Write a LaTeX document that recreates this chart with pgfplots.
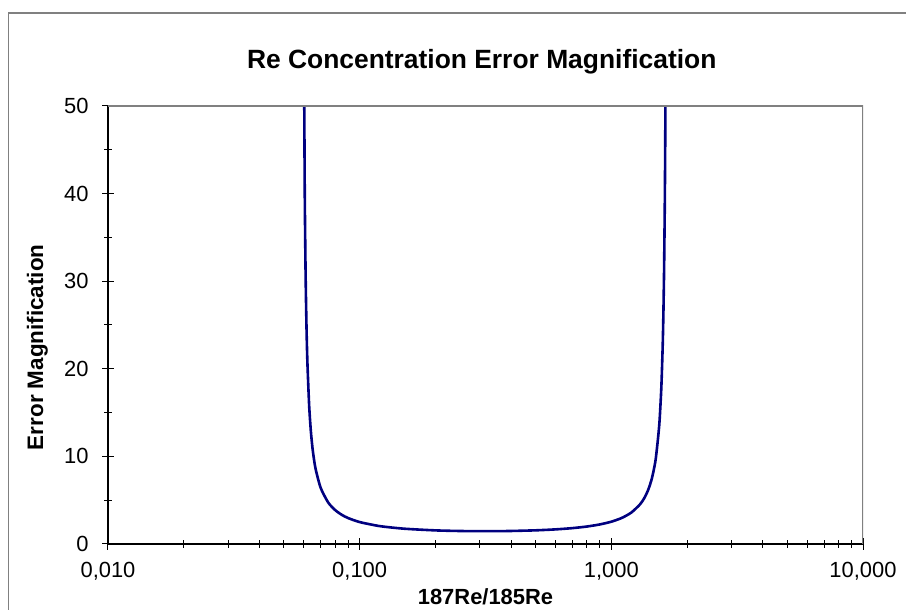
\documentclass[border=0pt]{standalone}
\usepackage{fontspec}
\setmainfont{Liberation Sans}
\usepackage{pgfplots}
\pgfplotsset{compat=1.18}
\definecolor{curve}{RGB}{0,0,128}
\definecolor{frame}{RGB}{128,128,128}

\begin{document}
\begin{tikzpicture}[x=1bp,y=1bp]
  % page and outer chart frame
  \useasboundingbox (0,0) rectangle (906,610);
  \fill[white] (0,0) rectangle (906,610);
  \draw[frame, line width=1.5bp] (8.5,0) -- (8.5,597) -- (906,597);

  \begin{axis}[
    at={(108bp,66bp)}, anchor=south west,
    width=755bp, height=438bp, scale only axis,
    xmode=log, log basis x=10,
    xmin=0.01, xmax=10, ymin=0, ymax=50,
    axis lines*=left,
    axis line style={-, black, line width=1.2bp},
    xtick={0.01,0.1,1,10},
    xticklabels={{0,010},{0,100},{1,000},{10,000}},
    minor xtick={0.02,0.03,0.04,0.05,0.06,0.07,0.08,0.09,
                 0.2,0.3,0.4,0.5,0.6,0.7,0.8,0.9,
                 2,3,4,5,6,7,8,9},
    ytick={0,10,20,30,40,50},
    minor ytick={5,15,25,35,45},
    tick align=center,
    major tick length=12bp, minor tick length=8bp,
    every tick/.style={black, line width=1bp},
    /pgf/number format/assume math mode=true,
    tick label style={font=\fontsize{22}{25}\selectfont},
    yticklabel style={xshift=-10bp},
    xticklabel style={yshift=-9bp},
    title={\bfseries Re Concentration Error Magnification},
    title style={font=\fontsize{26.5}{30}\selectfont, at={(axis description cs:0.495,1.087)}, anchor=center},
    xlabel={\bfseries 187Re/185Re},
    xlabel style={font=\fontsize{22}{26}\selectfont, at={(axis description cs:0.5,-0.12)}, anchor=center},
    ylabel={\bfseries Error Magnification},
    ylabel style={font=\fontsize{22.5}{26}\selectfont, at={(axis description cs:-0.0934,0.449)}, anchor=center},
  ]
    \addplot[curve, line width=2.6bp, smooth, tension=0.4] coordinates {
      (0.0600, 60.04) (0.0605, 40.37) (0.0610, 30.54) (0.0615, 24.64)
      (0.0620, 20.71) (0.0630, 15.79) (0.0640, 12.84) (0.0650, 10.87)
      (0.0660, 9.47) (0.0670, 8.417) (0.0700, 6.407) (0.0750, 4.734)
      (0.0800, 3.860) (0.0850, 3.323) (0.0900, 2.960) (0.1000, 2.503)
      (0.1200, 2.044) (0.1500, 1.747) (0.2000, 1.554) (0.2500, 1.484)
      (0.3000, 1.463) (0.3500, 1.467) (0.4000, 1.487) (0.5000, 1.560)
      (0.6000, 1.668) (0.7000, 1.811) (0.8000, 1.995) (0.9000, 2.233)
      (1.0000, 2.546) (1.1000, 2.974) (1.2000, 3.584) (1.3000, 4.524)
      (1.3500, 5.213) (1.4000, 6.154) (1.4500, 7.516) (1.5000, 9.645)
      (1.5500, 13.54) (1.5800, 17.85) (1.6000, 22.66) (1.6100, 26.19)
      (1.6200, 31.04) (1.6300, 38.08) (1.6350, 42.96) (1.6400, 49.27)
      (1.6450, 57.76)
    };
    % grey top and right edges of the plot area
    \draw[frame, line width=1.8bp] (rel axis cs:0,1) -- (rel axis cs:1,1) -- (rel axis cs:1,0);
  \end{axis}
\end{tikzpicture}
\end{document}
